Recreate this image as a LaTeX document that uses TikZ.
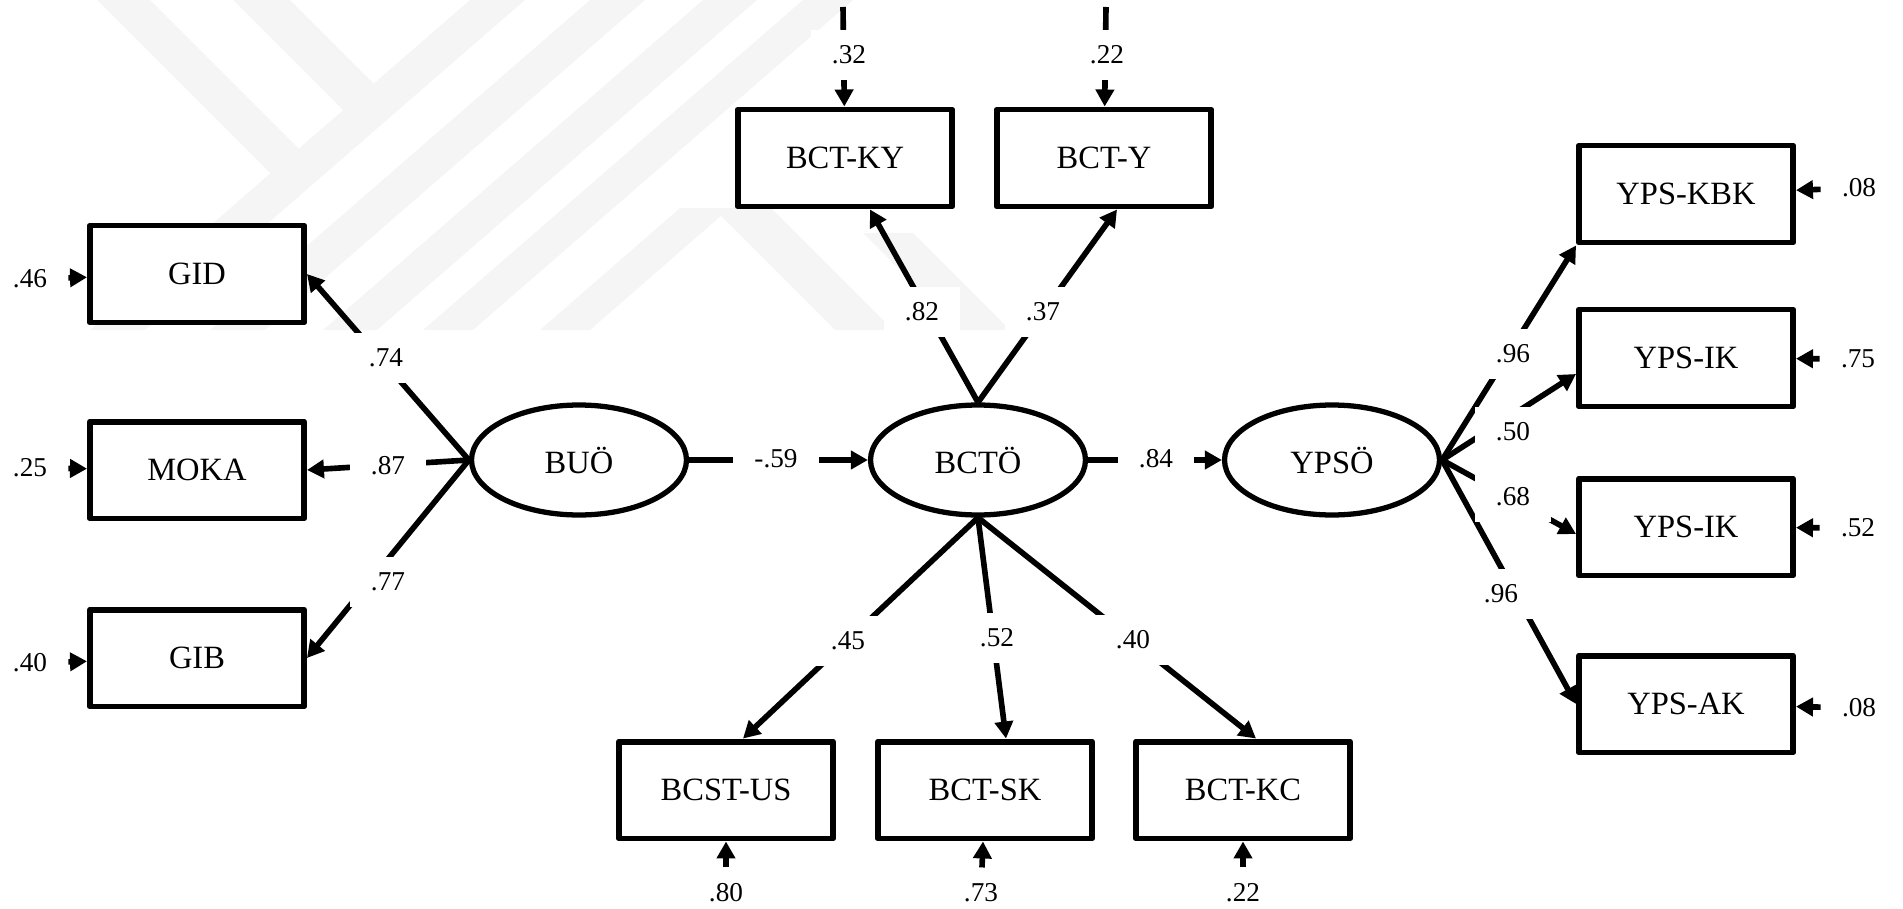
\documentclass[tikz,border=0pt]{standalone}
\usepackage{fontspec}
\setmainfont{Liberation Serif}
\usetikzlibrary{shapes.geometric,arrows.meta}

\tikzset{
  obs/.style={draw, line width=3.4pt, fill=white, minimum width=4.28cm, minimum height=1.94cm, inner sep=0pt, font=\fontsize{18.5}{20}\selectfont},
  lat/.style={draw, ellipse, line width=3pt, fill=white, minimum width=4.3cm, minimum height=2.2cm, inner sep=0pt, font=\fontsize{18.5}{20}\selectfont},
  coef/.style={fill=white, inner xsep=0.42cm, inner ysep=0.32cm, font=\fontsize{15.5}{17}\selectfont},
  load/.style={line width=3.2pt, ->},
  wmark/.style={fill=gray!8}
}

\begin{document}
\begin{tikzpicture}[x=0.02cm, y=-0.02cm, line join=round, >={Triangle[length=0.34cm,width=0.36cm]}]
\useasboundingbox (0,0) rectangle (1903,909);
\clip (0,0) rectangle (1903,909);

% faint logo in the background
\fill[wmark] (97,0) -- (150,0) -- (310,160) -- (283.5,186.5) -- cycle;
\fill[wmark] (233,0) -- (290,0) -- (380,90) -- (351.5,118.5) -- cycle;
\fill[wmark] (470,0) -- (525,0) -- (145,330) -- (90,330) -- cycle;
\fill[wmark] (590,0) -- (645,0) -- (265,330) -- (210,330) -- cycle;
\fill[wmark] (703,0) -- (757,0) -- (377,330) -- (323,330) -- cycle;
\fill[wmark] (803,0) -- (853,0) -- (473,330) -- (423,330) -- cycle;
\fill[wmark] (680,208) -- (730,208) -- (590,330) -- (540,330) -- cycle;
\fill[wmark] (713,208) -- (771,208) -- (893,330) -- (835,330) -- cycle;
\fill[wmark] (863,233) -- (913,233) -- (1010,330) -- (960,330) -- cycle;

% latent variables
\node[lat] (BUO) at (579,460) {BUÖ};
\node[lat] (BCTO) at (978,460) {BCTÖ};
\node[lat] (YPSO) at (1332,460) {YPSÖ};

% observed variables
\node[obs] (GID) at (197,274) {GID};
\node[obs] (MOKA) at (197,470) {MOKA};
\node[obs] (GIB) at (197,658) {GIB};
\node[obs] (BCTKY) at (845,158) {BCT-KY};
\node[obs] (BCTY) at (1104,158) {BCT-Y};
\node[obs] (BCSTUS) at (726,790) {BCST-US};
\node[obs] (BCTSK) at (985,790) {BCT-SK};
\node[obs] (BCTKC) at (1243,790) {BCT-KC};
\node[obs] (KBK) at (1686,194) {YPS-KBK};
\node[obs] (IKa) at (1686,358) {YPS-IK};
\node[obs] (IKb) at (1686,527) {YPS-IK};
\node[obs] (AK) at (1686,704) {YPS-AK};

% structural paths and loadings
\draw[load] (BUO) -- (BCTO);
\draw[load] (BCTO) -- (YPSO);
\draw[load] (BUO.west) -- (GID.east);
\draw[load] (BUO.west) -- (MOKA.east);
\draw[load] (BUO.west) -- (GIB.east);
\draw[load] (BCTO.north) -- ([xshift=0.5cm]BCTKY.south);
\draw[load] (BCTO.north) -- ([xshift=0.26cm]BCTY.south);
\draw[load] (BCTO.south) -- ([xshift=0.34cm]BCSTUS.north);
\draw[load] (BCTO.south) -- ([xshift=0.42cm]BCTSK.north);
\draw[load] (BCTO.south) -- ([xshift=0.26cm]BCTKC.north);
\draw[load] (YPSO.east) -- (KBK.south west);
\draw[load] (YPSO.east) -- ([yshift=-0.32cm]IKa.west);
\draw[load] (YPSO.east) -- ([yshift=-0.14cm]IKb.west);
\draw[load] (YPSO.east) -- (AK.west);

% residual terms at the top run in from outside
\coordinate (uKY) at (843,7);
\coordinate (uY) at (1106,7);
\draw[load] (uKY) -- (BCTKY);
\draw[load] (uY) -- (BCTY);

% coefficients on the paths
\node[coef] (cBCT) at (776,459) {-.59};
\node[coef] (cYPS) at (1156,459) {.84};
\node[coef] (cGID) at (386,358) {.74};
\node[coef] (cMOKA) at (388,466) {.87};
\node[coef] (cGIB) at (388,582) {.77};
\node[coef] (cKY) at (922,312) {.82};
\node[coef] (cY) at (1043,312) {.37};
\node[coef] (cUS) at (848,641) {.45};
\node[coef] (cSK) at (997,638) {.52};
\node[coef] (cKC) at (1133,640) {.40};
\node[coef] (cKBK) at (1513,354) {.96};
\node[coef] (cIKa) at (1513,432) {.50};
\node[coef] (cIKb) at (1513,497) {.68};
\node[coef] (cAK) at (1501,594) {.96};

% error variances
\node[coef] (eKY) at (849,55) {.32};
\node[coef] (eY) at (1107,55) {.22};
\node[coef] (eGID) at (30,279) {.46};
\node[coef] (eMOKA) at (30,468) {.25};
\node[coef] (eGIB) at (30,663) {.40};
\node[coef] (eUS) at (726,893) {.80};
\node[coef] (eSK) at (981,893) {.73};
\node[coef] (eKC) at (1243,893) {.22};
\node[coef] (eKBK) at (1859,188) {.08};
\node[coef] (eIKa) at (1858,359) {.75};
\node[coef] (eIKb) at (1858,528) {.52};
\node[coef] (eAK) at (1859,708) {.08};
\draw[load] (eGID) -- (GID);
\draw[load] (eMOKA) -- (MOKA);
\draw[load] (eGIB) -- (GIB);
\draw[load] (eUS) -- (BCSTUS);
\draw[load] (eSK) -- (BCTSK);
\draw[load] (eKC) -- (BCTKC);
\draw[load] (eKBK) -- (KBK);
\draw[load] (eIKa) -- (IKa);
\draw[load] (eIKb) -- (IKb);
\draw[load] (eAK) -- (AK);
\end{tikzpicture}
\end{document}
